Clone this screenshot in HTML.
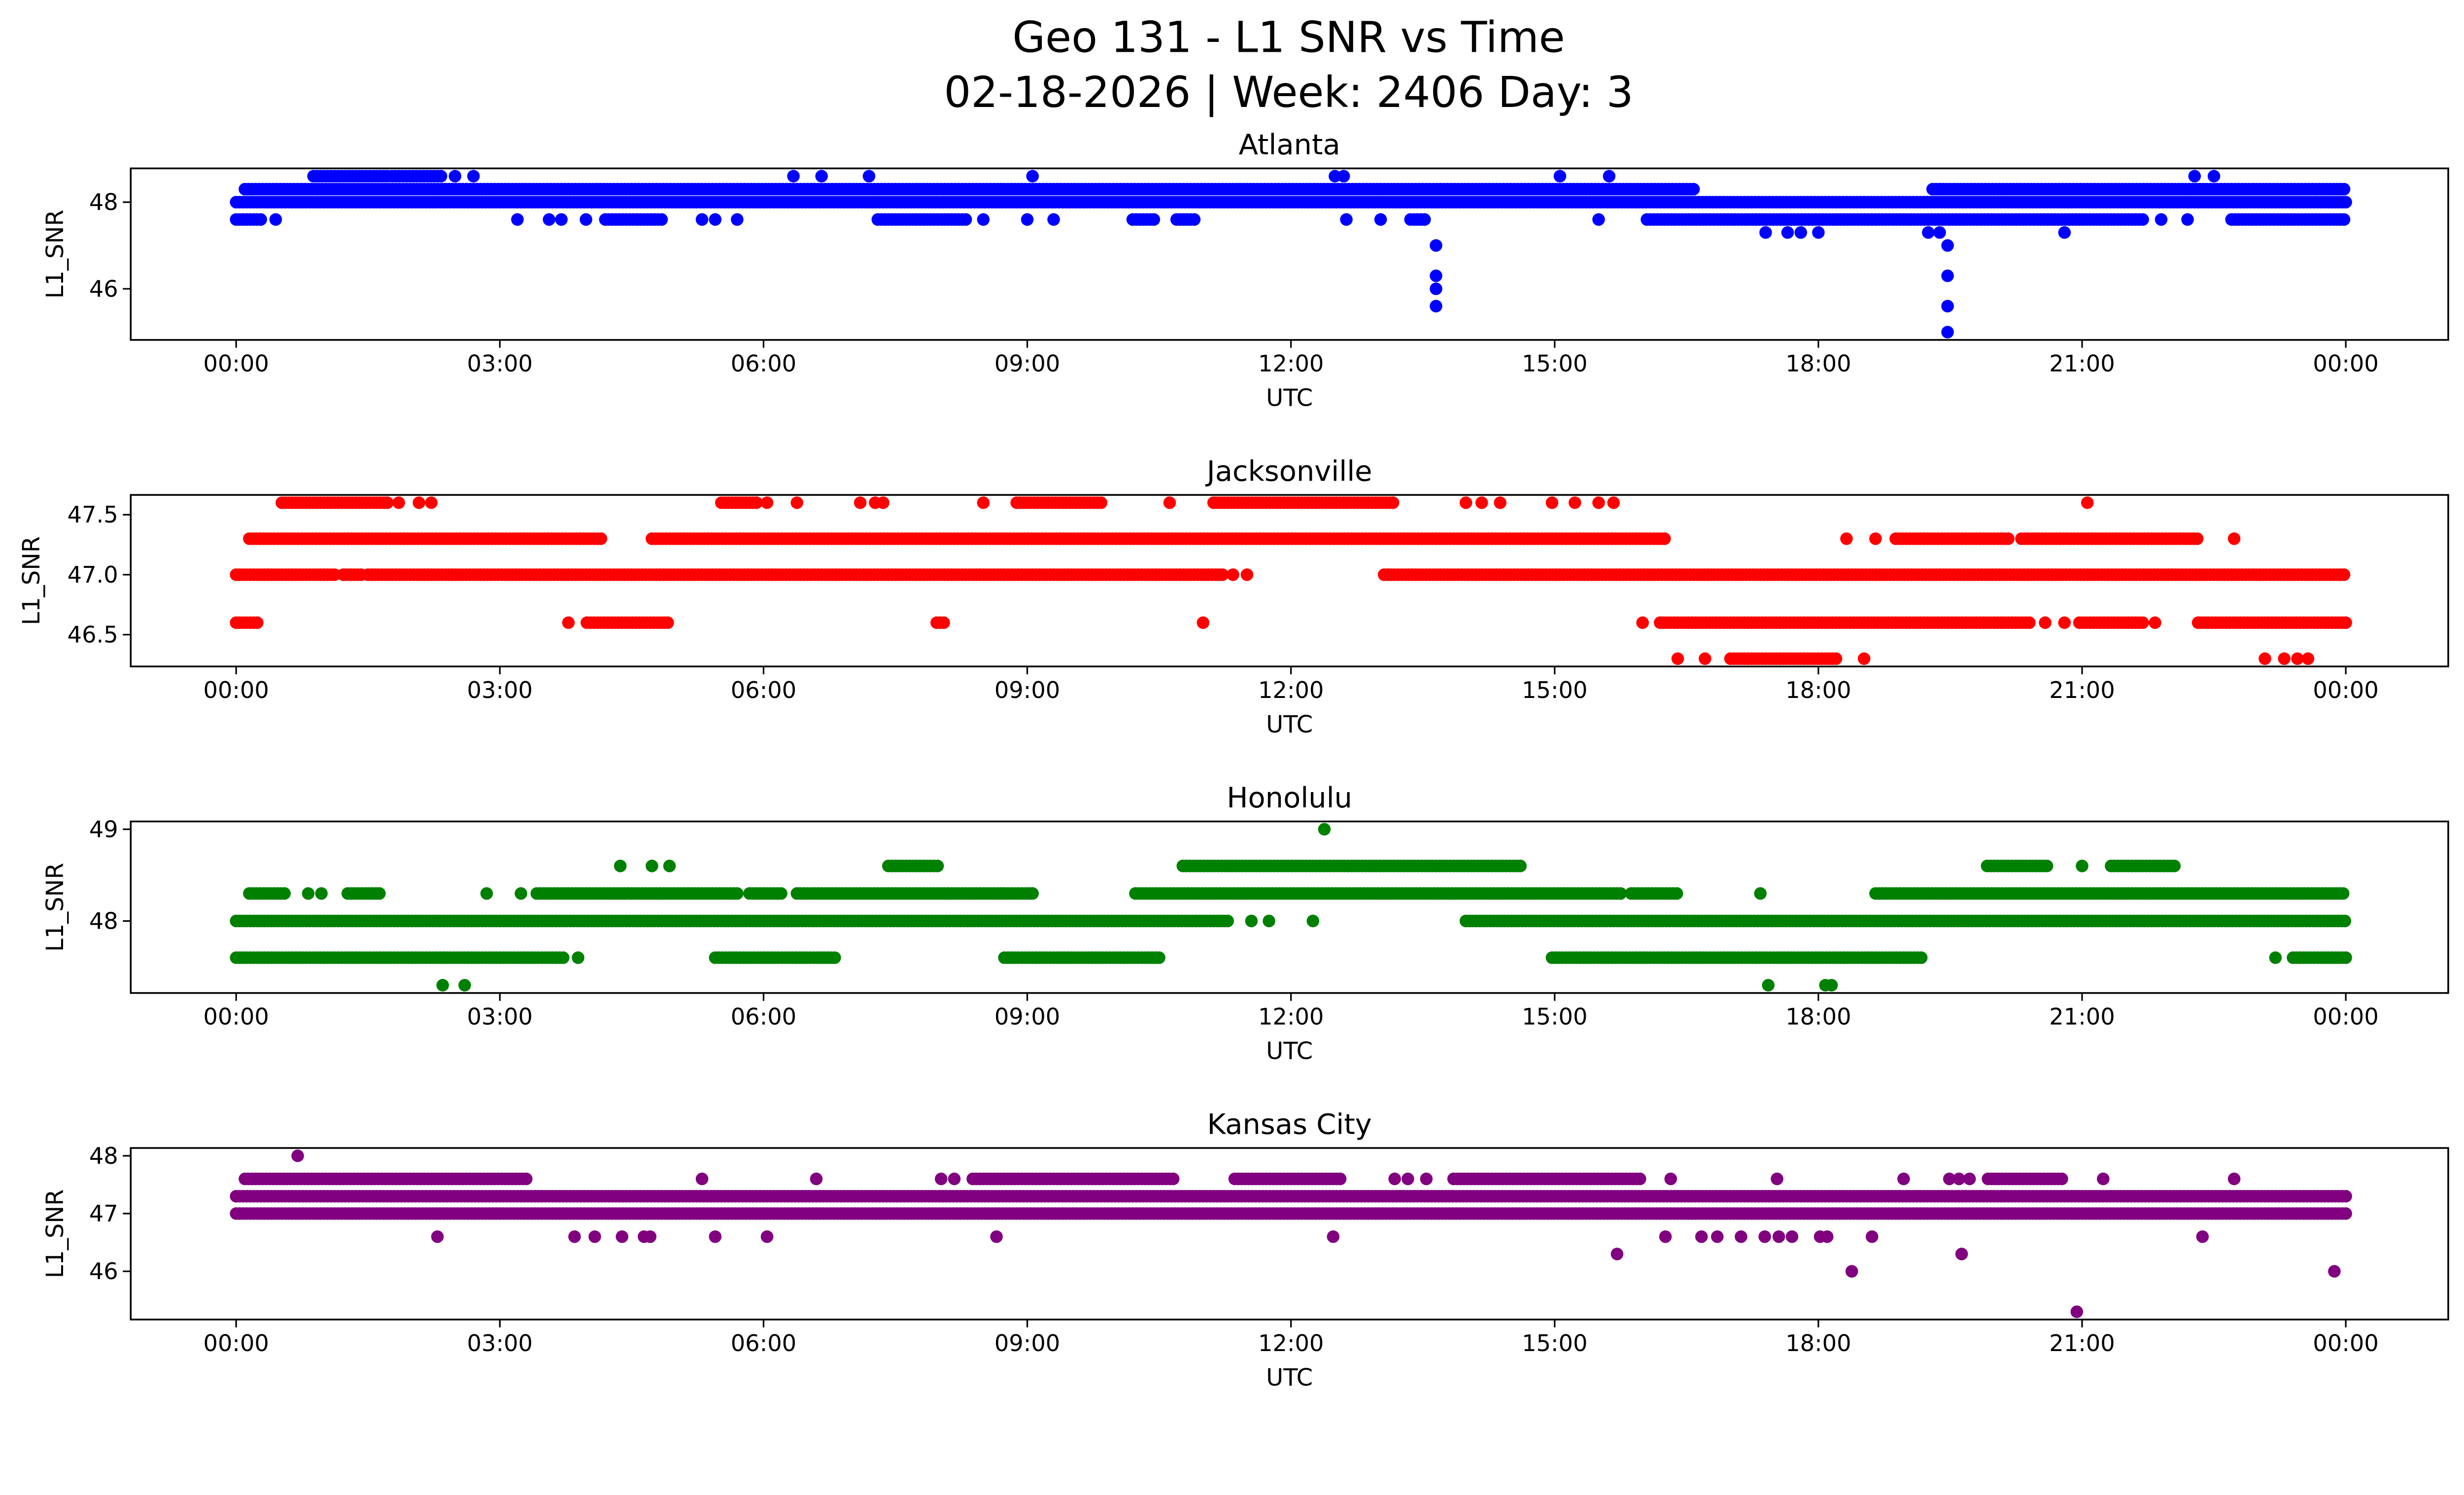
<!DOCTYPE html>
<html><head><meta charset="utf-8"><style>
html,body{margin:0;padding:0;background:#fff;overflow:hidden}
svg{display:block;font-family:"DejaVu Sans","Liberation Sans",sans-serif}
</style></head><body>
<svg id="chart" width="5278" height="3033" viewBox="0 0 1653 950" xmlns="http://www.w3.org/2000/svg">
<text x="819" y="33" font-size="27" text-anchor="middle">Geo 131 - L1 SNR vs Time</text>
<text x="819" y="68" font-size="27" text-anchor="middle">02-18-2026 | Week: 2406 Day: 3</text>
<g id="panels"></g>
</svg>
<script>
// ---------- data (hours UTC, SNR values) ----------
const xTickLabels = ["00:00","03:00","06:00","09:00","12:00","15:00","18:00","21:00","00:00"];
const stations = ["Atlanta","Jacksonville","Honolulu","Kansas City"];
const colors = ["#0000ff","#ff0000","#008000","#800080"];
const yLimits = [[44.82,48.78],[46.235,47.665],[47.215,49.085],[45.165,48.135]];
const yTicks = [[46,48],[46.5,47.0,47.5],[48,49],[46,47,48]];
const yTickLabels = [["46","48"],["46.5","47.0","47.5"],["48","49"],["46","47","48"]];

// Atlanta
const atlRunLevels = [48.3,48.0,48.3,48.6,48.6,47.6,47.6,47.6,47.6,47.6,47.6,47.6,47.6];
const atlRunStarts = [0.1,0.0,19.3,0.88,1.77,0.0,4.2,7.3,10.2,10.7,13.36,16.05,22.7];
const atlRunEnds   = [16.6,24.0,24.0,1.72,2.35,0.3,4.85,8.3,10.45,10.9,13.55,21.7,24.0];
const atlPtTimes  = [2.49,2.7,6.34,6.66,7.2,9.06,12.5,12.6,15.06,15.62,22.28,22.5,0.45,3.2,3.56,3.7,3.98,5.3,5.45,5.7,8.5,9.0,9.3,12.63,13.02,15.5,21.9,22.2,17.4,17.65,17.8,18.0,19.25,20.8,13.65,13.65,13.65,13.65,19.47,19.47,19.47,19.47,19.38];
const atlPtValues = [48.6,48.6,48.6,48.6,48.6,48.6,48.6,48.6,48.6,48.6,48.6,48.6,47.6,47.6,47.6,47.6,47.6,47.6,47.6,47.6,47.6,47.6,47.6,47.6,47.6,47.6,47.6,47.6,47.3,47.3,47.3,47.3,47.3,47.3,47.0,46.3,46.0,45.6,47.0,46.3,45.6,45.0,47.3];

// Jacksonville
const jaxRunLevels = [47.6,47.6,47.6,47.6,47.3,47.3,47.3,47.3,47.0,47.0,47.0,47.0,46.6,46.6,46.6,46.6,46.6,46.6,46.3];
const jaxRunStarts = [0.52,5.52,8.88,11.12,0.15,4.73,18.88,20.31,0.0,1.22,1.5,13.06,0.0,3.99,16.2,20.97,22.32,7.97,17.0];
const jaxRunEnds   = [1.72,5.93,9.87,13.18,4.17,16.28,20.17,22.32,1.13,1.42,11.25,24.0,0.25,4.94,20.4,21.7,24.0,8.08,18.2];
const jaxPtTimes  = [1.85,2.08,2.22,6.04,6.38,7.1,7.27,7.36,8.5,10.62,13.99,14.17,14.38,14.97,15.23,15.5,15.67,21.06,18.32,18.65,22.73,11.34,11.5,3.78,11.0,16.0,20.58,20.8,21.83,16.4,16.71,18.52,23.08,23.3,23.45,23.57];
const jaxPtValues = [47.6,47.6,47.6,47.6,47.6,47.6,47.6,47.6,47.6,47.6,47.6,47.6,47.6,47.6,47.6,47.6,47.6,47.6,47.3,47.3,47.3,47.0,47.0,46.6,46.6,46.6,46.6,46.6,46.6,46.3,46.3,46.3,46.3,46.3,46.3,46.3];

// Honolulu
const honRunLevels = [48.6,48.6,48.6,48.6,48.3,48.3,48.3,48.3,48.3,48.3,48.3,48.3,48.0,48.0,47.6,47.6,47.6,47.6,47.6];
const honRunStarts = [7.42,10.77,19.92,21.33,0.15,1.27,3.42,5.84,6.38,10.23,15.87,18.65,0.0,13.99,0.0,5.45,8.74,14.97,23.4];
const honRunEnds   = [7.99,14.62,20.62,22.05,0.56,1.63,5.71,6.2,9.06,15.78,16.4,24.0,11.3,24.0,3.74,6.82,10.5,19.18,24.0];
const honPtTimes  = [12.38,4.37,4.73,4.93,21.0,0.82,0.97,2.85,3.24,17.34,11.55,11.75,12.25,3.89,23.2,2.35,2.6,17.43,18.08,18.15];
const honPtValues = [49.0,48.6,48.6,48.6,48.6,48.3,48.3,48.3,48.3,48.3,48.0,48.0,48.0,47.6,47.6,47.3,47.3,47.3,47.3,47.3];

// Kansas City
const kcRunLevels = [47.6,47.6,47.6,47.6,47.6,47.3,47.0];
const kcRunStarts = [0.1,8.38,11.36,13.85,19.93,0.0,0.0];
const kcRunEnds   = [3.3,10.69,12.59,16.0,20.8,24.0,24.0];
const kcPtTimes  = [0.7,5.3,6.6,8.02,8.17,13.18,13.33,13.54,16.32,17.53,18.97,19.49,19.6,19.72,21.24,22.73,2.29,3.85,4.08,4.39,4.64,4.71,5.45,6.04,8.65,12.48,16.26,16.67,16.85,17.12,17.39,17.55,17.7,18.02,18.1,18.61,22.37,15.71,19.63,18.38,23.87,20.94];
const kcPtValues = [48.0,47.6,47.6,47.6,47.6,47.6,47.6,47.6,47.6,47.6,47.6,47.6,47.6,47.6,47.6,47.6,46.6,46.6,46.6,46.6,46.6,46.6,46.6,46.6,46.6,46.6,46.6,46.6,46.6,46.6,46.6,46.6,46.6,46.6,46.6,46.6,46.6,46.3,46.3,46.0,46.0,45.3];

const runLevels=[atlRunLevels,jaxRunLevels,honRunLevels,kcRunLevels];
const runStarts=[atlRunStarts,jaxRunStarts,honRunStarts,kcRunStarts];
const runEnds=[atlRunEnds,jaxRunEnds,honRunEnds,kcRunEnds];
const ptTimes=[atlPtTimes,jaxPtTimes,honPtTimes,kcPtTimes];
const ptValues=[atlPtValues,jaxPtValues,honPtValues,kcPtValues];

// ---------- layout ----------
const NS="http://www.w3.org/2000/svg";
const L=83,R=1556,H=109,tops=[107,314.5,522,729.5];
const X0=150,PXH=55.87,MR=4;
function xs(h){return X0+h*PXH;}
function mk(tag,at,parent){const e=document.createElementNS(NS,tag);for(const k in at)e.setAttribute(k,at[k]);parent.appendChild(e);return e;}
const root=document.getElementById('panels');
stations.forEach((name,i)=>{
  const top=tops[i],[lo,hi]=yLimits[i];
  const ys=v=>top+(hi-v)/(hi-lo)*H;
  const g=mk('g',{},root);
  
  
  const clip=mk('clipPath',{id:'c'+i},g);
  mk('rect',{x:L,y:top,width:R-L,height:H},clip);
  const pts=mk('g',{fill:colors[i],'clip-path':'url(#c'+i+')'},g);
  
  
  for(let k=0;k<runLevels[i].length;k++){
    const y=ys(runLevels[i][k]);
    for(let h=runStarts[i][k];h<=runEnds[i][k]+1e-9;h+=0.04){
      mk('circle',{cx:xs(h).toFixed(2),cy:y.toFixed(2),r:MR},pts);
    }
  }
  for(let k=0;k<ptTimes[i].length;k++){
    const c=mk('circle',{cx:xs(ptTimes[i][k]).toFixed(2),cy:ys(ptValues[i][k]).toFixed(2),r:MR},pts);
    
    
  }
  const fr=mk('rect',{x:L,y:top,width:R-L,height:H,fill:'none',stroke:'#000','stroke-width':1.1},g);
  
  
  const t=mk('text',{x:(L+R)/2,y:top-9,'font-size':18,'text-anchor':'middle'},g);
  t.textContent=name;
  
  
  xTickLabels.forEach((lab,j)=>{
    const x=xs(j*3);
    mk('line',{x1:x,x2:x,y1:top+H,y2:top+H+5,stroke:'#000','stroke-width':1},g);
    const tl=mk('text',{x:x,y:top+H+20,'font-size':14.5,'text-anchor':'middle'},g);
    tl.textContent=lab;
    
    
  });
  yTicks[i].forEach((v,j)=>{
    const y=ys(v);
    mk('line',{x1:L-5,x2:L,y1:y,y2:y,stroke:'#000','stroke-width':1},g);
    const yl=mk('text',{x:L-8,y:y+5,'font-size':14.5,'text-anchor':'end'},g);
    yl.textContent=yTickLabels[i][j];
    
    
  });
  const xl=mk('text',{x:(L+R)/2,y:top+H+42,'font-size':15,'text-anchor':'middle'},g);
  xl.textContent='UTC';
  
  
  const yx = i===1?25:40;
  const yt=mk('text',{x:yx,y:top+H/2,'font-size':15,'text-anchor':'middle',transform:'rotate(-90 '+yx+' '+(top+H/2)+')'},g);
  yt.textContent='L1_SNR';
  
  
});
</script>
</body></html>
